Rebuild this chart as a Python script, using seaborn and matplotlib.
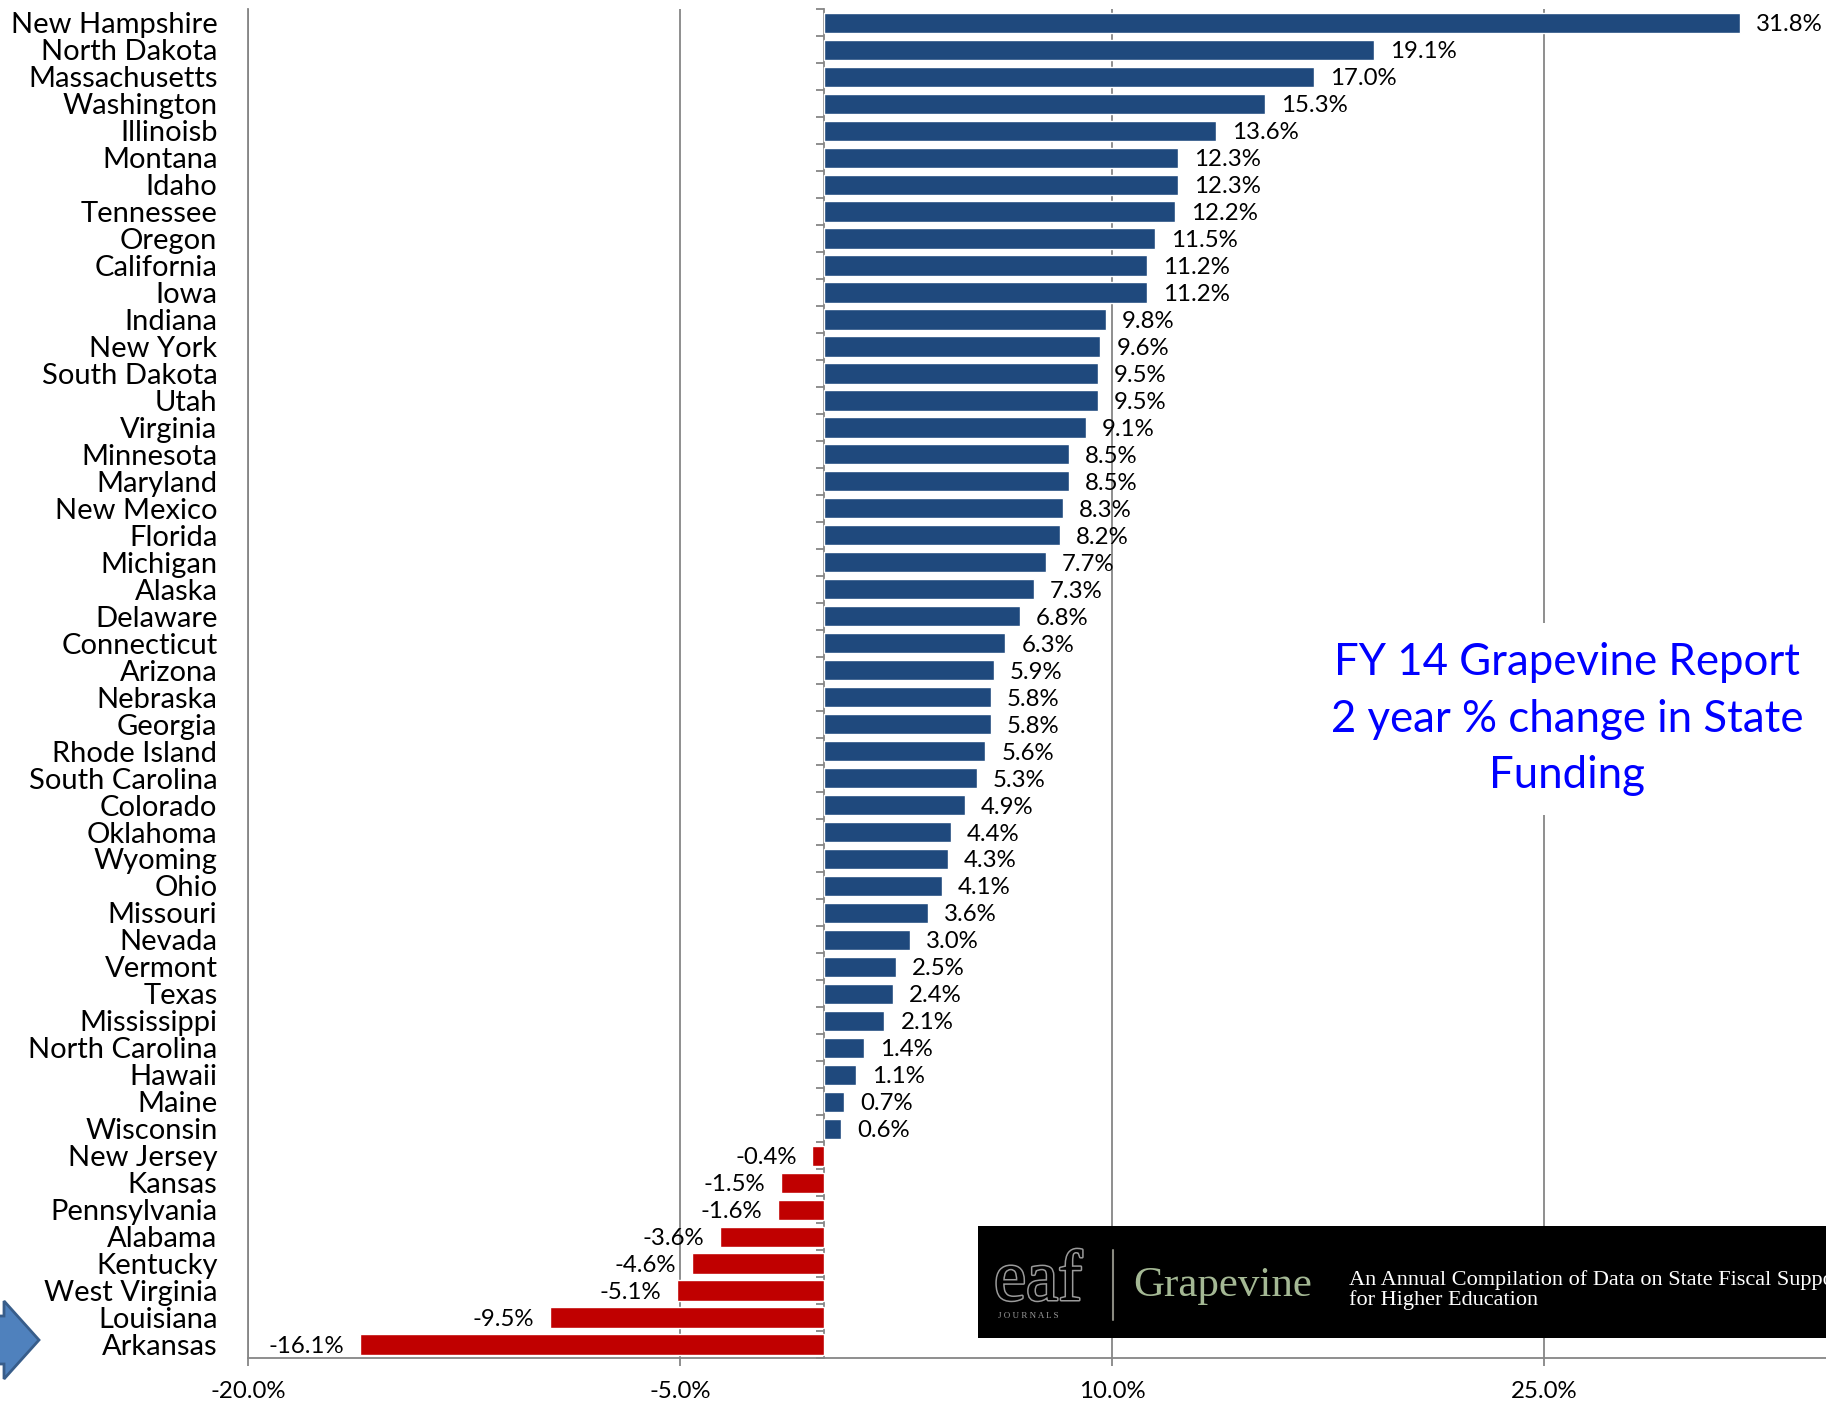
import numpy as np
import pandas as pd
import matplotlib
matplotlib.use("Agg")
import matplotlib.pyplot as plt
import seaborn as sns
from matplotlib.patches import Rectangle, Polygon
from matplotlib.lines import Line2D
import matplotlib.patheffects as pe

# ---------------- data ----------------
states = [
    "New Hampshire", "North Dakota", "Massachusetts", "Washington", "Illinoisb",
    "Montana", "Idaho", "Tennessee", "Oregon", "California", "Iowa", "Indiana",
    "New York", "South Dakota", "Utah", "Virginia", "Minnesota", "Maryland",
    "New Mexico", "Florida", "Michigan", "Alaska", "Delaware", "Connecticut",
    "Arizona", "Nebraska", "Georgia", "Rhode Island", "South Carolina", "Colorado",
    "Oklahoma", "Wyoming", "Ohio", "Missouri", "Nevada", "Vermont", "Texas",
    "Mississippi", "North Carolina", "Hawaii", "Maine", "Wisconsin", "New Jersey",
    "Kansas", "Pennsylvania", "Alabama", "Kentucky", "West Virginia", "Louisiana",
    "Arkansas",
]
changes = [
    31.8, 19.1, 17.0, 15.3, 13.6, 12.3, 12.3, 12.2, 11.5, 11.2, 11.2, 9.8,
    9.6, 9.5, 9.5, 9.1, 8.5, 8.5, 8.3, 8.2, 7.7, 7.3, 6.8, 6.3, 5.9, 5.8,
    5.8, 5.6, 5.3, 4.9, 4.4, 4.3, 4.1, 3.6, 3.0, 2.5, 2.4, 2.1, 1.4, 1.1,
    0.7, 0.6, -0.4, -1.5, -1.6, -3.6, -4.6, -5.1, -9.5, -16.1,
]
x_ticks = [-20, -5, 10, 25]
x_tick_labels = ["-20.0%", "-5.0%", "10.0%", "25.0%"]
title_lines = ["FY 14 Grapevine Report", "2 year % change in State", "Funding"]
banner_logo = "eaf"
banner_logo_sub = "J O U R N A L S"
banner_name = "Grapevine"
banner_tagline = ["An Annual Compilation of Data on State Fiscal Support",
                  "for Higher Education"]

# ---------------- style ----------------
sns.set_theme(style="white")
plt.rcParams["font.family"] = ["Lato", "DejaVu Sans"]

GRID = "#868686"
POS = "#1F497D"
NEG = "#C00000"

W, H = 1826, 1403
fig = plt.figure(figsize=(W / 100, H / 100), dpi=100)

ax_left_px, ax_right_px = 248, W
ax_top_px, ax_bot_px = 9.3, 1358
ax = fig.add_axes([ax_left_px / W, (H - ax_bot_px) / H,
                   (ax_right_px - ax_left_px) / W, (ax_bot_px - ax_top_px) / H])

df = pd.DataFrame({"state": states, "change": changes})
df["sign"] = np.where(df["change"] >= 0, "pos", "neg")

sns.barplot(data=df, x="change", y="state", hue="sign",
            palette={"pos": POS, "neg": NEG}, dodge=False, legend=False,
            width=0.75, orient="h", saturation=1, ax=ax, zorder=2)

xmin = -20
px_per_unit = (1544 - 248) / 45.0
xmax = xmin + (ax_right_px - ax_left_px) / px_per_unit
ax.set_xlim(xmin, xmax)
ax.set_ylim(len(states) - 0.5, -0.5)

for c in ax.containers:
    labels = ax.bar_label(c, fmt="%.1f%%", padding=11.5, fontsize=17.3, color="black")
    for t in labels:
        t.set_va("center_baseline")

ax.set_xticks(x_ticks)
ax.set_xticklabels(x_tick_labels)
ax.xaxis.grid(True, color=GRID, linewidth=1.3)
ax.yaxis.grid(False)
ax.set_axisbelow(True)
ax.set_xlabel("")
ax.set_ylabel("")

for s in ["top", "right"]:
    ax.spines[s].set_visible(False)
for s in ["left", "bottom"]:
    ax.spines[s].set_color(GRID)
    ax.spines[s].set_linewidth(1.3)

ax.tick_params(axis="x", direction="out", length=5.8, width=1.3, color=GRID,
               labelsize=17.3, pad=11, labelcolor="black", bottom=True)
ax.tick_params(axis="y", length=0, labelsize=21, pad=22, labelcolor="black")

# category axis crossing at zero, with outward ticks at slot boundaries
loc = (0 - xmin) / (xmax - xmin)
sec = ax.secondary_yaxis(loc)
sec.set_yticks(np.arange(len(states) + 1) - 0.5)
sec.tick_params(axis="y", direction="out", length=5.8, width=1.3, color=GRID,
                labelleft=False, labelright=False)
for s in sec.spines.values():
    s.set_color(GRID)
    s.set_linewidth(1.3)

# ---------------- title box ----------------
fig.text(1567 / W, 1 - 719 / H, "\n".join(title_lines), ha="center", va="center",
         fontsize=31.5, color="#0000FF", linespacing=1.47, zorder=6,
         bbox=dict(fc="white", ec="none", pad=14))

# ---------------- banner ----------------
fig.add_artist(Rectangle((978 / W, 1 - 1338 / H), 1 - 978 / W + 0.01, 112 / H,
                         transform=fig.transFigure, fc="black", ec="none", zorder=5))
fig.text(994 / W, 1 - 1300 / H, banner_logo, family="Liberation Serif", fontsize=52,
         color="black", va="baseline", ha="left", zorder=6,
         path_effects=[pe.withStroke(linewidth=2.2, foreground="#9a9a9a")])
fig.text(998 / W, 1 - 1318 / H, banner_logo_sub, family="Liberation Serif",
         fontsize=6.5, color="#9a9a9a", va="baseline", ha="left", zorder=6)
fig.add_artist(Line2D([1113 / W, 1113 / W], [1 - 1250 / H, 1 - 1320 / H],
                      transform=fig.transFigure, color="#8a8a80", lw=1.5, zorder=6))
fig.text(1133 / W, 1 - 1296 / H, banner_name, family="Liberation Serif", fontsize=31,
         color="#a4b894", va="baseline", ha="left", zorder=6)
fig.text(1349 / W, 1 - 1290 / H, "\n".join(banner_tagline), family="Liberation Serif",
         fontsize=16, color="white", va="center", ha="left", linespacing=1.0, zorder=6)

# ---------------- arrow ----------------
arrow_px = [(-5, 1316), (4, 1316), (4, 1301), (39, 1340), (4, 1379), (4, 1364), (-5, 1364)]
fig.add_artist(Polygon([(x / W, 1 - y / H) for x, y in arrow_px], closed=True,
                       transform=fig.transFigure, fc="#4F81BD", ec="#385D8A",
                       lw=2, zorder=6))

fig.savefig("out.png", dpi=100)
